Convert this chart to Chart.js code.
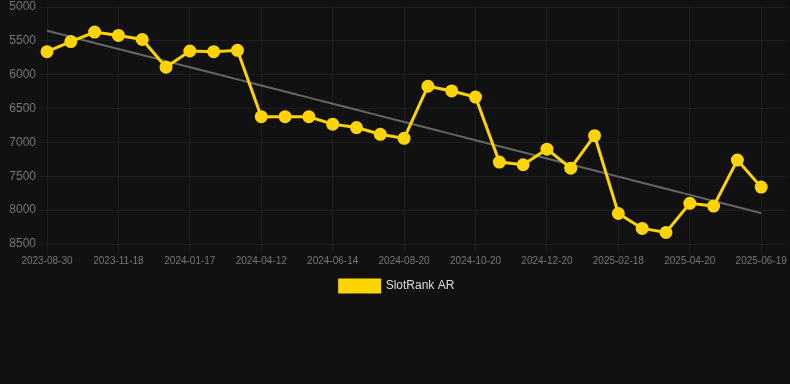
<!DOCTYPE html>
<html lang="en">
<head>
  <meta charset="UTF-8">
  <title>SlotRank AR</title>
  <script src="https://cdn.jsdelivr.net/npm/chart.js"></script>
  <style>
    html, body { margin: 0; padding: 0; background: #111111; overflow: hidden; }
    .wrap { width: 794px; height: 304px; margin-top: -2px; position: relative; }
  </style>
</head>
<body>
<div class="wrap"><canvas id="rankChart"></canvas></div>

<script>
const dates = [
  "2023-08-30","2023-09-26","2023-10-23","2023-11-18","2023-12-08","2023-12-28",
  "2024-01-17","2024-02-15","2024-03-14","2024-04-12","2024-05-03","2024-05-24",
  "2024-06-14","2024-07-06","2024-07-28","2024-08-20","2024-09-09","2024-09-30",
  "2024-10-20","2024-11-09","2024-11-30","2024-12-20","2025-01-09","2025-01-29",
  "2025-02-18","2025-03-10","2025-03-31","2025-04-20","2025-05-10","2025-05-30",
  "2025-06-19"
];
const rankValues = [
  5660, 5510, 5370, 5420, 5480, 5890, 5650, 5660, 5640, 6620,
  6620, 6620, 6730, 6780, 6880, 6940, 6170, 6240, 6330, 7290,
  7330, 7100, 7380, 6900, 8050, 8270, 8330, 7900, 7940, 7260,
  7660
];
const yTicks = [5000, 5500, 6000, 6500, 7000, 7500, 8000, 8500];

// least squares trend over the series
const n = rankValues.length;
const meanX = (n - 1) / 2;
const meanY = rankValues.reduce((a, b) => a + b, 0) / n;
let sxy = 0, sxx = 0;
rankValues.forEach((v, i) => { sxy += (i - meanX) * (v - meanY); sxx += (i - meanX) * (i - meanX); });
const slope = sxy / sxx;
const trend = rankValues.map((v, i) => meanY + slope * (i - meanX));

// one empty slot on the right so the plot runs on past the last point
const labels = dates.concat([""]);

const font = { family: 'Arial, "Liberation Sans", sans-serif' };

new Chart(document.getElementById('rankChart'), {
  type: 'line',
  data: {
    labels: labels,
    datasets: [
      {
        label: 'SlotRank AR',
        data: rankValues,
        borderColor: '#ffd400',
        backgroundColor: '#ffd400',
        borderWidth: 3,
        pointRadius: 5,
        pointHoverRadius: 6,
        tension: 0
      },
      {
        label: 'trend',
        data: trend,
        borderColor: '#666666',
        borderWidth: 2,
        pointRadius: 0,
        fill: false
      }
    ]
  },
  options: {
    responsive: true,
    maintainAspectRatio: false,
    animation: false,
    scales: {
      x: {
        grid: { color: 'rgba(255,255,255,0.05)' },
        ticks: {
          color: '#777',
          font: { ...font, size: 10 },
          autoSkip: false,
          maxRotation: 0,
          callback: function (val, i) { return (i % 3 === 0 && labels[i]) ? labels[i] : null; }
        },
        border: { display: false }
      },
      y: {
        reverse: true,
        min: 5000,
        max: 8500,
        afterBuildTicks: axis => { axis.ticks = yTicks.map(v => ({ value: v })); },
        afterFit: s => { s.width = 47; s.paddingTop = 4; },
        grid: { color: 'rgba(255,255,255,0.05)' },
        ticks: {
          color: '#777',
          font: { ...font, size: 12 },
          callback: v => String(v)
        },
        border: { display: false }
      }
    },
    plugins: {
      legend: {
        position: 'bottom',
        labels: {
          color: '#dddddd',
          boxWidth: 40,
          boxHeight: 12,
          font: { ...font, size: 12 },
          filter: item => item.text === 'SlotRank AR'
        }
      },
      tooltip: { enabled: false }
    }
  }
});
</script>
</body>
</html>
